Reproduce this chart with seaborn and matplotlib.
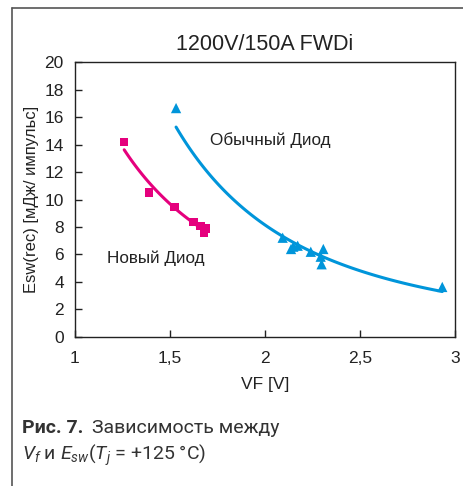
import numpy as np
import matplotlib.pyplot as plt
import seaborn as sns
from matplotlib.lines import Line2D
plt.switch_backend('Agg')

# new diode (magenta squares)
new_vf = [1.259, 1.391, 1.523, 1.623, 1.661, 1.688, 1.679]
new_esw = [14.16, 10.52, 9.45, 8.34, 8.09, 7.90, 7.54]

# conventional diode (blue triangles)
old_vf = [1.532, 2.093, 2.137, 2.149, 2.172, 2.241, 2.307, 2.293, 2.298, 2.933]
old_esw = [16.65, 7.22, 6.40, 6.57, 6.64, 6.20, 6.40, 5.84, 5.29, 3.64]

x_ticks = [1, 1.5, 2, 2.5, 3]
x_labels = ['1', '1,5', '2', '2,5', '3']
y_ticks = list(range(0, 21, 2))

pink = '#E5007D'
blue = '#0095DA'

sns.set_theme(style='white')
plt.rcParams['font.family'] = ['Liberation Sans', 'DejaVu Sans']
plt.rcParams['mathtext.fontset'] = 'custom'
plt.rcParams['mathtext.rm'] = 'Roboto'
plt.rcParams['mathtext.it'] = 'Roboto:italic'


def power_trend(vf, esw, n=100):
    # power trendline y = a * x^b, like the spreadsheet one
    b, loga = np.polyfit(np.log(vf), np.log(esw), 1)
    xs = np.linspace(min(vf), max(vf), n)
    return xs, np.exp(loga) * xs ** b


fig = plt.figure(figsize=(4.64, 4.86), dpi=100)
ax = fig.add_axes([0.1616, 0.3066, 0.819, 0.5658])

xs, ys = power_trend(new_vf, new_esw)
sns.lineplot(x=xs, y=ys, ax=ax, color=pink, lw=2.2)
xs, ys = power_trend(old_vf, old_esw)
sns.lineplot(x=xs, y=ys, ax=ax, color=blue, lw=2.2)

sns.scatterplot(x=new_vf, y=new_esw, ax=ax, marker='s', color=pink, s=36,
                edgecolor='none', zorder=3)
sns.scatterplot(x=old_vf, y=old_esw, ax=ax, marker='^', color=blue, s=55,
                edgecolor='none', zorder=3)

ax.set_xlim(1, 3)
ax.set_ylim(0, 20)
ax.set_xticks(x_ticks)
ax.set_xticklabels(x_labels)
ax.set_yticks(y_ticks)
ax.tick_params(direction='in', length=5, width=1, color='#222222',
               labelsize=12.5, labelcolor='#222222', pad=8)
ax.tick_params(axis='y', left=True)
ax.tick_params(axis='x', bottom=True, pad=10)
for sp in ax.spines.values():
    sp.set_color('#222222')
    sp.set_linewidth(1)

ax.set_title('1200V/150A FWDi', fontsize=15.5, color='#222222', pad=9)
ax.set_xlabel('VF [V]', fontsize=12.5, color='#222222', labelpad=8)
ax.set_ylabel('Esw(rec) [мДж/ импульс]', fontsize=12, color='#222222', labelpad=4)

ax.text(1.71, 14.0, 'Обычный Диод', fontsize=12.3, color='#222222')
ax.text(1.17, 5.4, 'Новый Диод', fontsize=12.3, color='#222222')

# frame around figure
fig.add_artist(Line2D([12 / 464, 12 / 464], [0, 1 - 8 / 486], color='#555555', lw=1.2))
fig.add_artist(Line2D([12 / 464, 1], [1 - 8 / 486, 1 - 8 / 486], color='#555555', lw=1.2))

# caption
cap_font = ['Roboto', 'DejaVu Sans']
fig.text(22 / 464, 1 - 428 / 486, 'Рис. 7.', fontsize=14, fontweight='bold',
         family=cap_font, color='#333333', va='center')
fig.text(92 / 464, 1 - 428 / 486, 'Зависимость между', fontsize=14,
         family=cap_font, color='#333333', va='center')
fig.text(22 / 464, 1 - 455 / 486, r'$V_f$ и $E_{sw}$($T_j$ = +125 °C)', fontsize=14,
         family=cap_font, color='#333333', va='center')

fig.savefig('out.png', dpi=100)
